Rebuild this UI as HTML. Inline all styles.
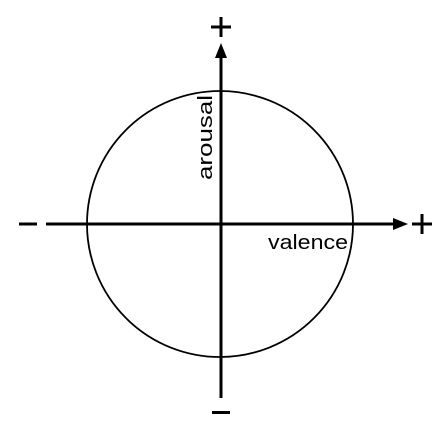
<!DOCTYPE html>
<html><head><style>body{margin:0;background:#fff}svg{display:block}</style></head><body>
<svg width="448" height="442" viewBox="0 0 448 442" xmlns="http://www.w3.org/2000/svg">
<circle cx="220" cy="224" r="133" fill="none" stroke="#000" stroke-width="1.8"/>
<line x1="46" y1="224" x2="396" y2="224" stroke="#000" stroke-width="3"/>
<polygon points="408,224 393,218 393,230" fill="#000"/>
<line x1="221" y1="56" x2="221" y2="398" stroke="#000" stroke-width="3"/>
<polygon points="221,43 215,58 227,58" fill="#000"/>
<rect x="19" y="222.5" width="18" height="3" fill="#000"/>
<g><rect x="412" y="222.5" width="20" height="3" fill="#000"/><rect x="420.5" y="214" width="3" height="20" fill="#000"/></g>
<g><rect x="211" y="25.5" width="20" height="3" fill="#000"/><rect x="219.5" y="17" width="3" height="20" fill="#000"/></g>
<rect x="212" y="411" width="18" height="3" fill="#000"/>
<text x="268" y="249" font-family="'Liberation Sans',sans-serif" font-size="20" textLength="80" lengthAdjust="spacingAndGlyphs">valence</text>
<text transform="translate(212,180) rotate(-90)" font-family="'Liberation Sans',sans-serif" font-size="20" textLength="85" lengthAdjust="spacingAndGlyphs">arousal</text>
</svg>
</body></html>
